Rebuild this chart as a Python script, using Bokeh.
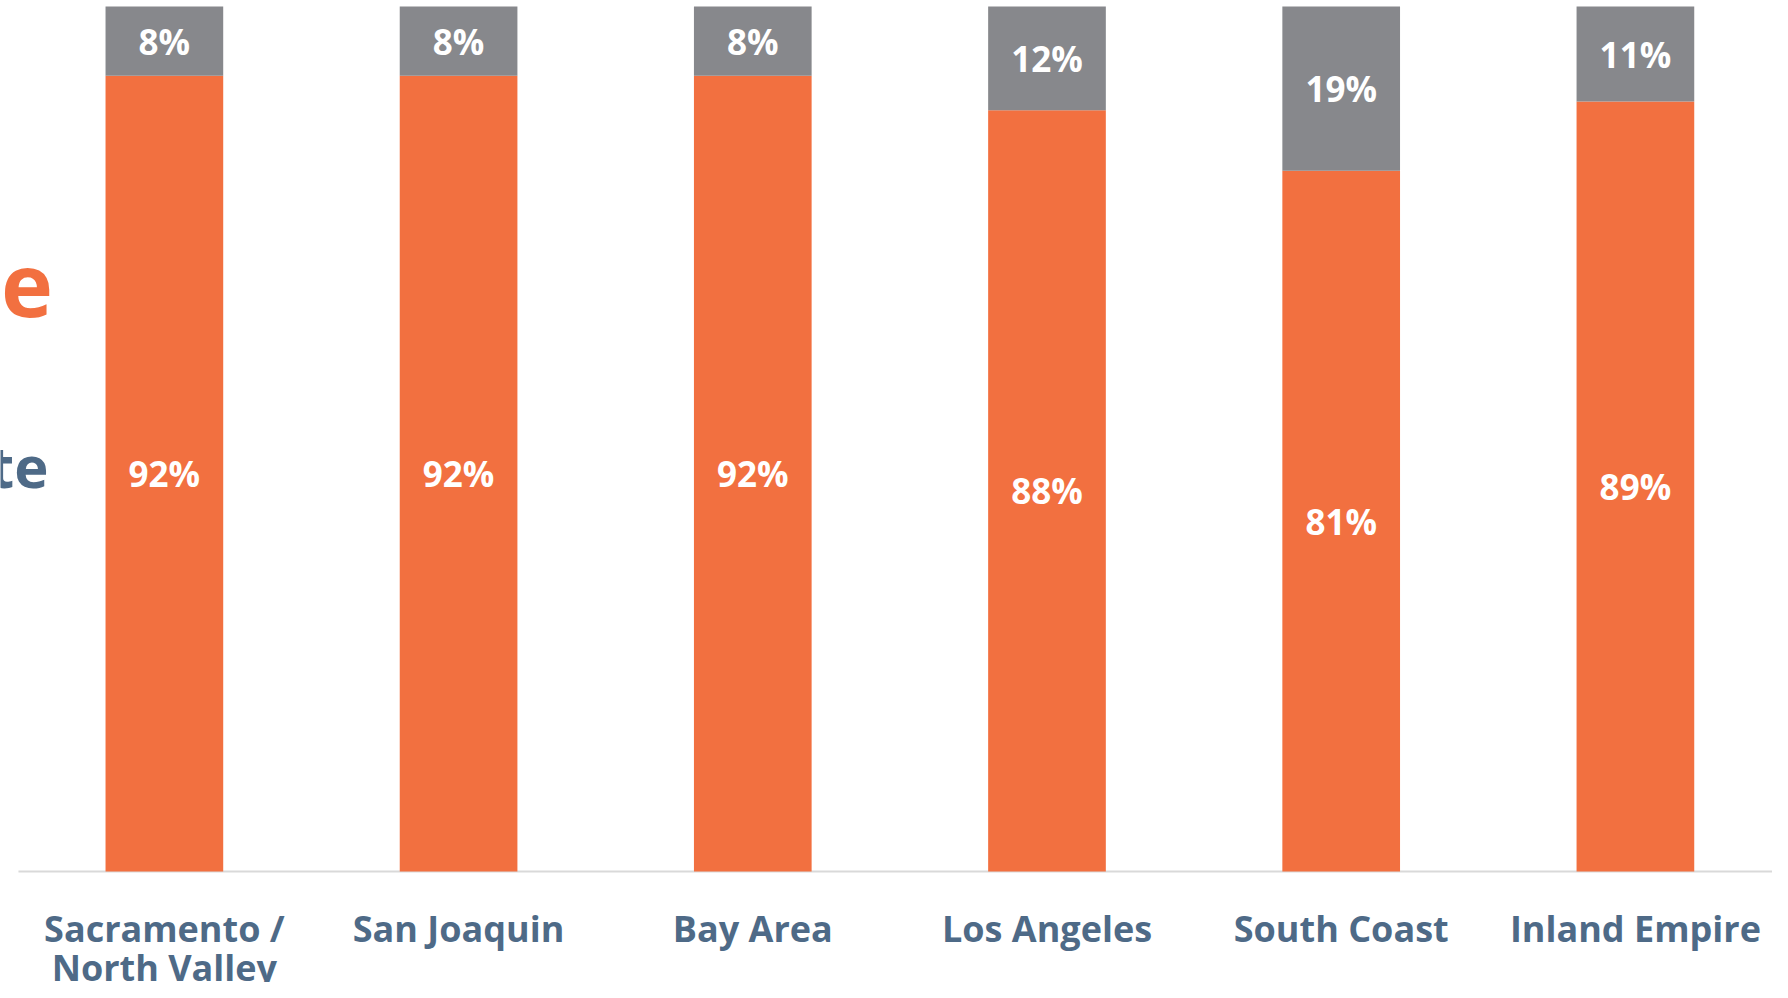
from bokeh.plotting import figure
from bokeh.models import ColumnDataSource, Range1d, Label
from bokeh.core.properties import value
from bokeh.embed import file_html
from bokeh.resources import INLINE

categories = ["Sacramento /\nNorth Valley", "San Joaquin", "Bay Area",
              "Los Angeles", "South Coast", "Inland Empire"]
yes_vals = [92, 92, 92, 88, 81, 89]
no_vals = [8, 8, 8, 12, 19, 11]

ORANGE = "#F27040"
GRAY = "#87888C"
SLATE = "#4E6A87"
AXIS = "#D9D9D9"
FONT = "Open Sans"

xpos = list(range(len(categories)))
line1 = [c.split("\n")[0] for c in categories]
line2 = [c.split("\n")[1] if "\n" in c else "" for c in categories]

src = ColumnDataSource(dict(
    x=xpos,
    yes=yes_vals,
    no=no_vals,
    yes_mid=[v / 2 for v in yes_vals],
    no_mid=[y + n / 2 for y, n in zip(yes_vals, no_vals)],
    yes_txt=[f"{v}%" for v in yes_vals],
    no_txt=[f"{v}%" for v in no_vals],
    line1=line1,
    line2=line2,
))

p = figure(x_range=Range1d(-0.557, 5.466), y_range=Range1d(-12.83, 100.69),
           width=1772, height=982, output_backend="svg", toolbar_location=None,
           x_axis_location=None, y_axis_location=None,
           min_border_left=0, min_border_right=0, min_border_top=0, min_border_bottom=0)

# baseline (category axis line)
p.segment(x0=[-0.496], y0=[0], x1=[5.5], y1=[0], line_color=AXIS, line_width=2)

p.vbar_stack(["yes", "no"], x="x", width=0.4, color=[ORANGE, GRAY],
             line_color=None, source=src)

p.text(x="x", y="yes_mid", text="yes_txt", source=src,
       text_font=value(FONT), text_font_style="bold", text_font_size="35px",
       text_color="white", text_align="center", text_baseline="middle")
p.text(x="x", y="no_mid", text="no_txt", source=src,
       text_font=value(FONT), text_font_style="bold", text_font_size="35px",
       text_color="white", text_align="center", text_baseline="middle")

# category labels under the baseline
p.text(x="x", y=-6.59, text="line1", source=src,
       text_font=value(FONT), text_font_style="bold", text_font_size="36px",
       text_color=SLATE, text_align="center", text_baseline="middle")
p.text(x="x", y=-11.10, text="line2", source=src,
       text_font=value(FONT), text_font_style="bold", text_font_size="36px",
       text_color=SLATE, text_align="center", text_baseline="middle")

# fragments of slide title text cut off at the left edge
p.add_layout(Label(x=-0.379, y=67.8, text="e", text_font=FONT,
                   text_font_style="bold", text_font_size="88px",
                   text_color=ORANGE, text_align="right", text_baseline="middle"))
p.add_layout(Label(x=-0.394, y=46.9, text="te", text_font=FONT,
                   text_font_style="bold", text_font_size="58px",
                   text_color=SLATE, text_align="right", text_baseline="middle"))

p.xgrid.grid_line_color = None
p.ygrid.grid_line_color = None
p.outline_line_color = None

open("out.html", "w").write(file_html(p, INLINE))
